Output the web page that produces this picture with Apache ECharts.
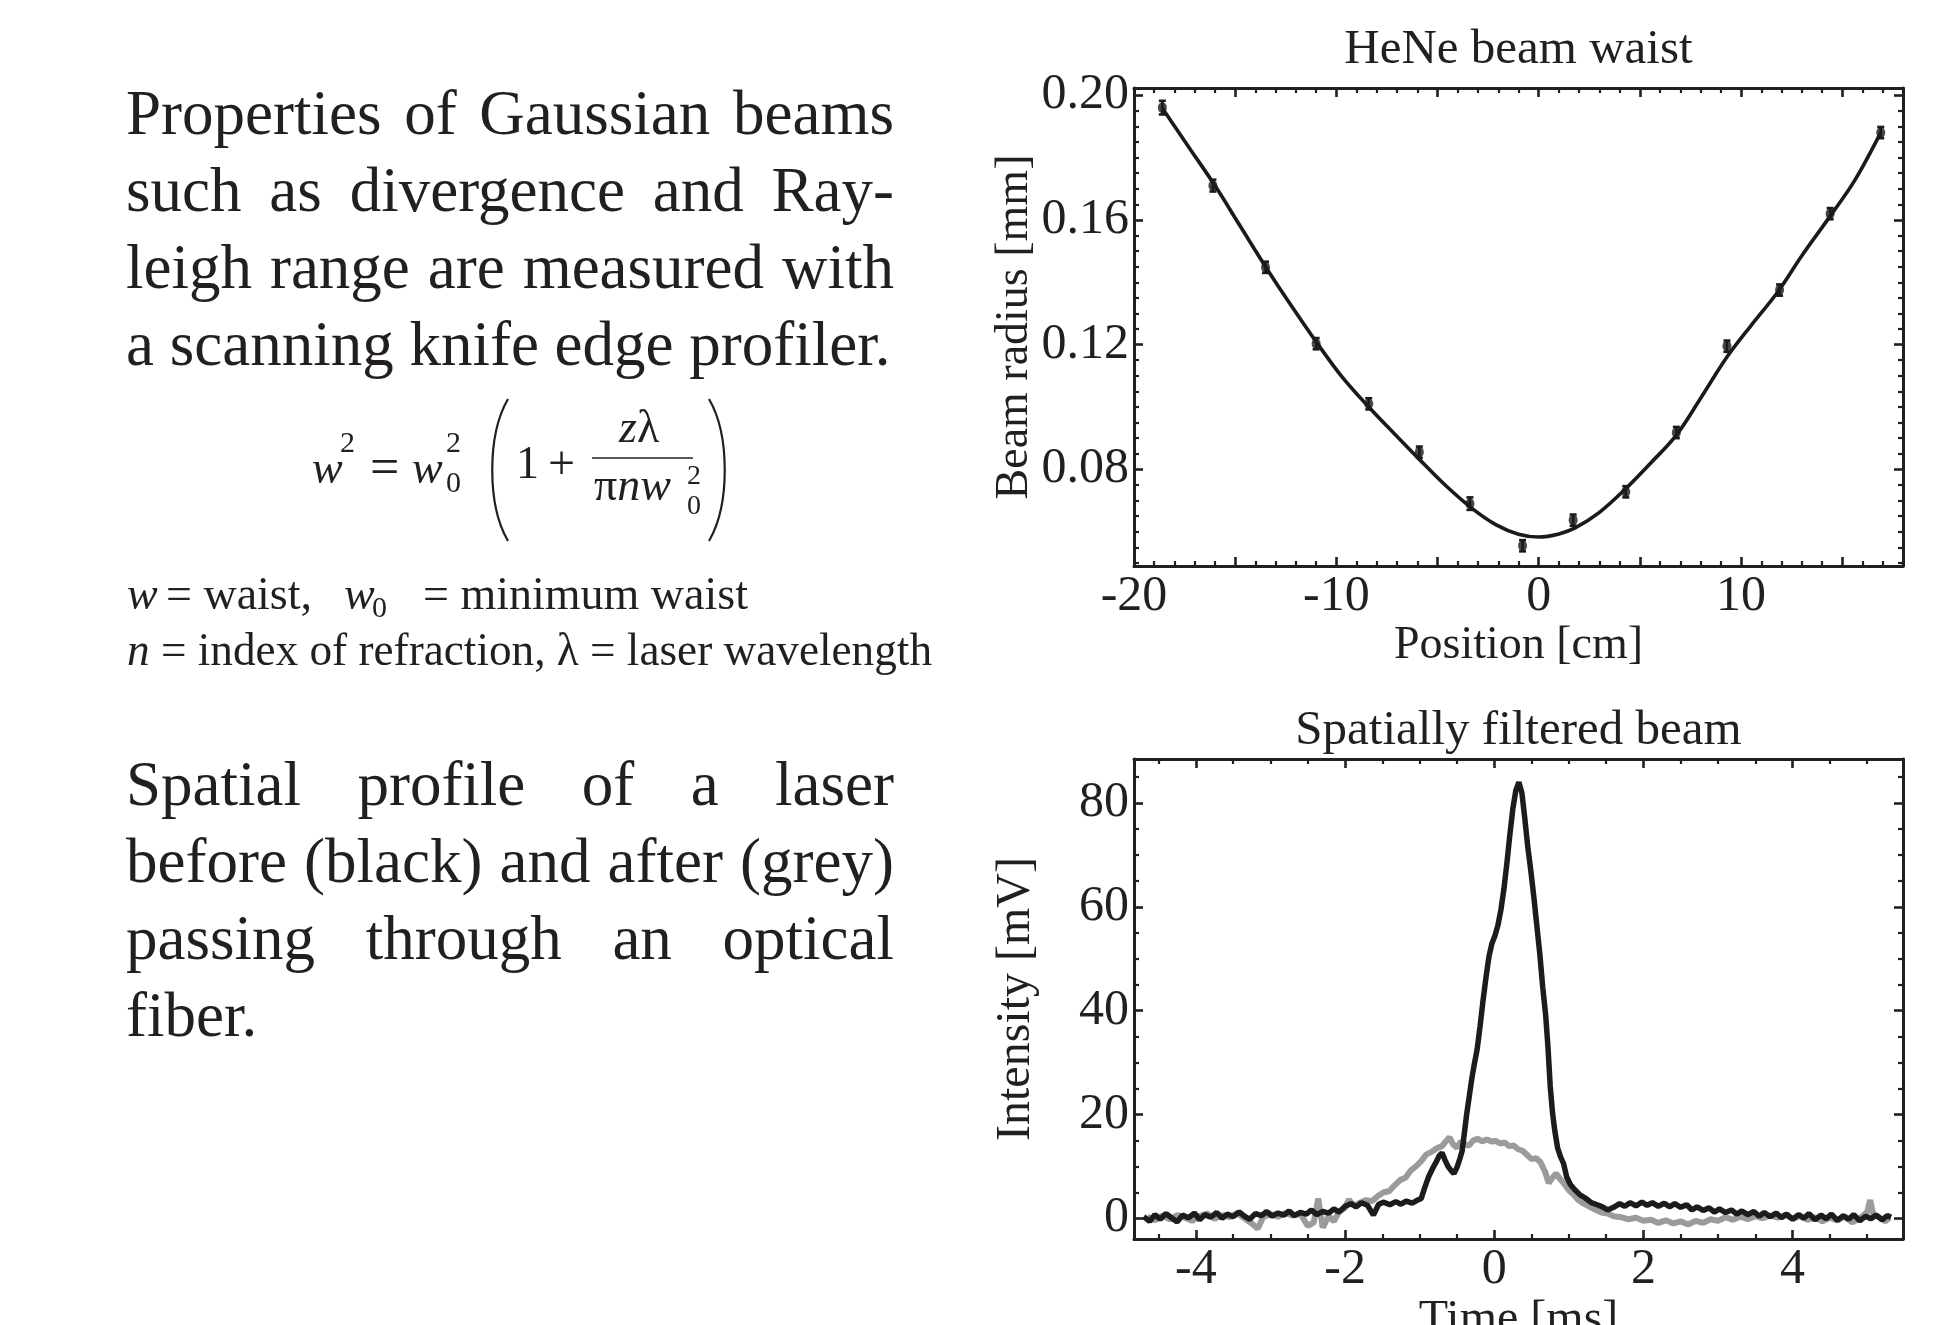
<!DOCTYPE html>
<html>
<head>
<meta charset="utf-8">
<title>Gaussian beam measurements</title>
<script src="https://cdn.jsdelivr.net/npm/echarts@6/dist/echarts.min.js"></script>
<style>
  html, body { margin: 0; padding: 0; background: #ffffff; width: 1941px; height: 1325px; overflow: hidden; }
  #chart { position: absolute; left: 0; top: 0; width: 1941px; height: 1325px; }
  .para { position: absolute; left: 126px; width: 768px; font-family: "Liberation Serif", "Times New Roman", serif;
          font-size: 63px; line-height: 77px; color: #231f20; }
  .para div { text-align: justify; text-align-last: justify; }
  .para div.last { text-align: left; text-align-last: left; white-space: nowrap; }
  svg.eq { position: absolute; left: 0; top: 0; pointer-events: none; }
  svg.eq text { font-family: "Liberation Serif", "Times New Roman", serif; fill: #231f20; }
</style>
</head>
<body>
<div id="chart"></div>

<div class="para" style="top:75px">
  <div>Properties of Gaussian beams</div>
  <div>such as divergence and Ray-</div>
  <div>leigh range are measured with</div>
  <div class="last">a scanning knife edge profiler.</div>
</div>

<div class="para" style="top:746px">
  <div>Spatial profile of a laser</div>
  <div>before (black) and after (grey)</div>
  <div>passing through an optical</div>
  <div class="last">fiber.</div>
</div>

<svg class="eq" width="1000" height="700" xmlns="http://www.w3.org/2000/svg">
  <!-- w^2 = w0^2 ( 1 + z lambda / (pi n w0^2) ) -->
  <text x="312" y="483" font-size="46" font-style="italic">w</text>
  <text x="340" y="452" font-size="30">2</text>
  <text x="370" y="484" font-size="52">=</text>
  <text x="412" y="483" font-size="46" font-style="italic">w</text>
  <text x="446" y="492" font-size="30">0</text>
  <text x="446" y="452" font-size="30">2</text>
  <path d="M 508 399 C 487 435, 487 505, 508 541" fill="none" stroke="#231f20" stroke-width="2.2"/>
  <text x="516" y="478" font-size="46">1</text>
  <text x="548" y="479" font-size="48">+</text>
  <text x="619" y="442" font-size="46"><tspan font-style="italic">z</tspan>λ</text>
  <line x1="592" y1="458" x2="693" y2="458" stroke="#231f20" stroke-width="1.6"/>
  <text x="594" y="500" font-size="46">π<tspan font-style="italic">nw</tspan></text>
  <text x="687" y="484" font-size="28">2</text>
  <text x="687" y="514" font-size="28">0</text>
  <path d="M 709 399 C 730 435, 730 505, 709 541" fill="none" stroke="#231f20" stroke-width="2.2"/>

  <!-- symbol definitions -->
  <text x="127" y="609" font-size="46" font-style="italic">w</text>
  <text x="166" y="609" font-size="46">= waist,</text>
  <text x="344" y="609" font-size="46" font-style="italic">w</text>
  <text x="372" y="617" font-size="30">0</text>
  <text x="423" y="609" font-size="46">= minimum waist</text>
  <text x="127" y="665" font-size="46" textLength="805" lengthAdjust="spacingAndGlyphs"><tspan font-style="italic">n</tspan> = index of refraction, λ = laser wavelength</text>
</svg>

<script>
// ---- HeNe beam waist: knife-edge measurements along the beam ----
const positionCm = [-18.6, -16.1, -13.5, -11.0, -8.4, -5.9, -3.4, -0.8, 1.7, 4.3, 6.8, 9.3, 11.9, 14.4, 16.9];
const radiusMm   = [0.1960, 0.1710, 0.1448, 0.1203, 0.1010, 0.0855, 0.0690, 0.0555, 0.0637, 0.0728, 0.0918, 0.1195, 0.1375, 0.1620, 0.1880];
const radiusErr  = [0.0022, 0.0019, 0.0018, 0.0018, 0.0018, 0.0018, 0.0020, 0.0018, 0.0018, 0.0018, 0.0018, 0.0018, 0.0018, 0.0018, 0.0018];

// fitted beam-radius curve
const fitCm = [-18.6, -17.3, -16.0, -14.8, -13.5, -12.2, -10.9, -9.7, -8.4, -7.1, -5.9, -4.6, -3.3, -2.1, -1.0,
               0.0, 1.0, 1.8, 3.0, 4.3, 5.5, 6.8, 8.0, 9.3, 10.5, 11.8, 13.0, 14.4, 15.6, 16.9];
const fitMm = [0.1958, 0.1834, 0.1710, 0.1585, 0.1450, 0.1322, 0.1200, 0.1095, 0.1000, 0.0912, 0.0832, 0.0748, 0.0675, 0.0622, 0.0592,
               0.0583, 0.0593, 0.0612, 0.0662, 0.0738, 0.0818, 0.0910, 0.1028, 0.1160, 0.1262, 0.1368, 0.1485, 0.1612, 0.1725, 0.1880];

const waistXLabels = [-20, -10, 0, 10];
const waistYLabels = [0.08, 0.12, 0.16, 0.20];

// ---- Spatially filtered beam: detector trace vs. time ----
const blackMs = [-4.70, -4.62, -4.55, -4.48, -4.40, -4.32, -4.25, -4.18, -4.10, -4.02, -3.95, -3.88, -3.80, -3.72, -3.65, -3.58,
  -3.50, -3.42, -3.35, -3.28, -3.20, -3.12, -3.05, -2.98, -2.90, -2.82, -2.75, -2.68, -2.60, -2.52, -2.45, -2.38, -2.30, -2.22,
  -2.15, -2.08, -2.00, -1.92, -1.85, -1.78, -1.70, -1.62, -1.55, -1.48, -1.40, -1.32, -1.25, -1.18, -1.10, -1.04, -0.98, -0.93,
  -0.88, -0.83, -0.78, -0.74, -0.70, -0.66, -0.62, -0.58, -0.54, -0.50, -0.46, -0.43, -0.40, -0.37, -0.34, -0.30, -0.27, -0.23,
  -0.19, -0.15, -0.11, -0.07, -0.03, 0.01, 0.05, 0.09, 0.13, 0.17, 0.21, 0.25, 0.29, 0.33, 0.37, 0.41, 0.45, 0.49, 0.53, 0.57,
  0.61, 0.65, 0.69, 0.72, 0.75, 0.78, 0.81, 0.85, 0.89, 0.93, 0.97, 1.02, 1.08, 1.15, 1.22, 1.30, 1.38, 1.45, 1.52, 1.60, 1.68,
  1.75, 1.82, 1.90, 1.98, 2.05, 2.12, 2.20, 2.28, 2.35, 2.42, 2.50, 2.58, 2.65, 2.72, 2.80, 2.88, 2.95, 3.02, 3.10, 3.18, 3.25,
  3.32, 3.40, 3.48, 3.55, 3.62, 3.70, 3.78, 3.85, 3.92, 4.00, 4.08, 4.15, 4.22, 4.30, 4.38, 4.45, 4.52, 4.60, 4.68, 4.75, 4.82,
  4.90, 4.98, 5.05, 5.12, 5.20, 5.27, 5.32];
const blackMv = [0.3, -0.6, 0.7, -0.2, 0.9, 0.0, -0.7, 0.6, 0.1, 1.0, -0.3, 0.7, 0.2, 1.1, 0.0, 0.8,
  0.3, 1.2, 0.4, -0.2, 0.9, 0.5, 1.3, 0.4, 1.0, 0.6, 1.4, 0.5, 1.1, 0.8, 1.6, 0.7, 1.3, 1.0,
  1.8, 1.2, 2.3, 2.8, 2.2, 3.0, 2.5, 0.6, 2.7, 3.1, 2.6, 3.2, 2.7, 3.3, 2.9, 3.4, 3.8, 6.0,
  8.0, 9.5, 10.8, 12.0, 12.6, 11.2, 10.0, 9.2, 8.6, 9.8, 11.5, 13.0, 16.5, 20.0, 23.0, 27.0, 29.5, 32.5,
  37.0, 42.0, 46.5, 50.5, 53.0, 54.5, 56.5, 59.5, 63.5, 68.5, 74.0, 79.0, 82.5, 84.0, 82.0, 77.0, 71.5, 67.0, 62.0, 56.5,
  51.0, 44.5, 39.0, 33.0, 25.5, 20.5, 17.0, 13.5, 11.8, 10.5, 8.0, 6.5, 5.5, 4.5, 3.9, 3.0, 2.6, 2.2, 1.6, 2.1, 2.8,
  2.3, 3.0, 2.4, 3.1, 2.5, 3.0, 2.3, 2.9, 2.2, 2.8, 2.1, 2.6, 1.6, 2.2, 1.5, 2.0, 1.2, 1.8, 1.1, 1.6, 0.8,
  1.4, 0.7, 1.3, 0.4, 1.1, 0.3, 1.0, 0.1, 0.8, -0.2, 0.7, 0.0, 0.9, -0.3, 0.6, -0.1, 0.8, -0.4, 0.5, -0.2, 0.7,
  -0.5, 0.4, -0.1, 0.6, -0.3, 0.5, 0.2];

const greyMs = [-4.65, -4.55, -4.45, -4.35, -4.25, -4.15, -4.05, -3.95, -3.85, -3.75, -3.65, -3.55, -3.45, -3.35, -3.25, -3.17,
  -3.10, -3.00, -2.90, -2.80, -2.70, -2.60, -2.50, -2.42, -2.36, -2.30, -2.22, -2.15, -2.08, -2.00, -1.95, -1.88, -1.80, -1.72,
  -1.64, -1.56, -1.48, -1.41, -1.34, -1.26, -1.19, -1.12, -1.05, -0.98, -0.91, -0.84, -0.77, -0.70, -0.65, -0.60, -0.55, -0.50,
  -0.45, -0.40, -0.34, -0.28, -0.22, -0.16, -0.10, -0.04, 0.02, 0.08, 0.14, 0.20, 0.26, 0.32, 0.38, 0.44, 0.50, 0.56, 0.62,
  0.68, 0.73, 0.78, 0.83, 0.88, 0.94, 1.00, 1.06, 1.12, 1.20, 1.28, 1.36, 1.44, 1.52, 1.60, 1.70, 1.80, 1.90, 2.00, 2.10, 2.20,
  2.30, 2.40, 2.50, 2.60, 2.70, 2.80, 2.90, 3.00, 3.10, 3.20, 3.30, 3.40, 3.50, 3.60, 3.70, 3.80, 3.90, 4.00, 4.10, 4.20, 4.30,
  4.40, 4.50, 4.60, 4.70, 4.80, 4.90, 5.00, 5.04, 5.08, 5.16, 5.24, 5.30];
const greyMv = [0.3, -0.4, 0.5, -0.2, 0.6, 0.1, -0.5, 0.4, 0.9, -0.1, 0.6, 0.2, 1.0, 0.0, -1.0, -2.0,
  0.2, 0.8, 0.3, 1.0, 0.5, 0.9, -1.5, -0.8, 3.8, -1.8, 0.4, -0.6, 1.3, 2.0, 3.6, 2.4, 3.0, 3.5,
  3.3, 4.3, 5.0, 5.2, 6.3, 7.4, 7.8, 9.2, 10.0, 11.0, 12.3, 12.8, 13.5, 13.9, 14.8, 15.6, 14.2, 13.6,
  14.8, 14.3, 14.0, 15.0, 15.3, 14.8, 15.2, 14.8, 14.9, 14.4, 14.6, 13.9, 14.0, 13.3, 13.0, 12.2, 11.4, 11.6, 10.8,
  9.0, 6.8, 7.8, 8.6, 7.6, 6.6, 5.4, 4.6, 3.6, 2.8, 2.2, 1.6, 1.1, 0.9, 0.4, 0.2, -0.2, 0.1, -0.5, -0.3, -0.9,
  -0.4, -1.0, -0.6, -1.2, -0.5, -0.9, -0.2, -0.5, 0.2, -0.3, 0.3, -0.2, 0.4, 0.0, 0.5, 0.1, 0.6, -0.1, 0.4, -0.3, 0.2,
  -0.6, 0.1, -0.4, 0.3, -0.8, 0.0, 1.2, 3.5, 0.8, 0.2, -0.6, 0.1];

const timeLabels = [-4, -2, 0, 2, 4];
const intensityLabels = [0, 20, 40, 60, 80];

// ---- styling helpers ----
const FONT = '"Liberation Serif", "Times New Roman", serif';
const INK = '#231f20';

const zip = (...cols) => cols[0].map((_, i) => cols.map(c => c[i]));

// tick positions every `step` inside [min, max], leaving out the major ones
function stepTicks(min, max, step, skip) {
  const out = [];
  const start = Math.ceil(min / step - 1e-9);
  for (let k = start; k * step <= max + 1e-9; k++) {
    const v = +(k * step).toFixed(6);
    if (!skip.some(s => Math.abs(s - v) < 1e-9)) out.push(v);
  }
  return out;
}

// four axes per dimension: labelled frame side, its minor ticks, opposite frame side, its minor ticks
function frameAxes(dim, grid, o) {
  const [near, far] = dim === 'x' ? ['bottom', 'top'] : ['left', 'right'];
  const base = { type: 'value', gridIndex: grid, min: o.min, max: o.max, scale: true,
                 splitLine: { show: false }, axisPointer: { show: false } };
  const line = { show: true, onZero: false, lineStyle: { color: INK, width: 3 } };
  const noLine = { show: false, onZero: false };
  const major = { show: true, inside: true, length: o.majorLen, lineStyle: { color: INK, width: 2.6 }, customValues: o.major };
  const minor = { show: true, inside: true, length: o.minorLen, lineStyle: { color: INK, width: 2.2 }, customValues: o.minor };
  return [
    Object.assign({}, base, {
      position: near, axisLine: line, axisTick: major,
      axisLabel: { show: true, customValues: o.labels, formatter: o.fmt, fontFamily: FONT, fontSize: o.labelSize,
                   color: INK, margin: o.margin, showMinLabel: true, showMaxLabel: true, hideOverlap: false },
      name: o.name, nameLocation: 'middle', nameGap: o.nameGap,
      nameTextStyle: { fontFamily: FONT, fontSize: o.nameSize, color: INK }
    }),
    Object.assign({}, base, { position: near, axisLine: noLine, axisTick: minor, axisLabel: { show: false } }),
    Object.assign({}, base, { position: far, axisLine: line, axisTick: major, axisLabel: { show: false } }),
    Object.assign({}, base, { position: far, axisLine: noLine, axisTick: minor, axisLabel: { show: false } })
  ];
}

// axis ranges
const waistX = { min: -20, max: 18 };
const waistY = { min: 0.049, max: 0.2023 };
const timeX = { min: -4.83, max: 5.48 };
const intY = { min: -4.0, max: 88.5 };

const waistXMajor = [-20, -15, -10, -5, 0, 5, 10, 15];
const waistYMajor = [0.08, 0.12, 0.16, 0.20];
const timeMajor = [-4, -2, 0, 2, 4];
const intMajor = [0, 20, 40, 60, 80];

const xAxes = [].concat(
  frameAxes('x', 0, { ...waistX, major: waistXMajor, minor: stepTicks(waistX.min, waistX.max, 1, waistXMajor),
    majorLen: 9, minorLen: 5, labels: waistXLabels, fmt: v => String(Math.round(v)), labelSize: 50, margin: 6,
    name: 'Position [cm]', nameGap: 56, nameSize: 46 }),
  frameAxes('x', 1, { ...timeX, major: timeMajor, minor: stepTicks(timeX.min, timeX.max, 0.5, timeMajor),
    majorLen: 9, minorLen: 5, labels: timeLabels, fmt: v => String(Math.round(v)), labelSize: 50, margin: 6,
    name: 'Time [ms]', nameGap: 50, nameSize: 48 })
);
const yAxes = [].concat(
  frameAxes('y', 0, { ...waistY, major: waistYMajor, minor: stepTicks(waistY.min, waistY.max, 0.005, waistYMajor),
    majorLen: 9, minorLen: 5, labels: waistYLabels, fmt: v => v.toFixed(2), labelSize: 50, margin: 5,
    name: 'Beam radius [mm]', nameGap: 94, nameSize: 46 }),
  frameAxes('y', 1, { ...intY, major: intMajor, minor: stepTicks(intY.min, intY.max, 5, intMajor),
    majorLen: 9, minorLen: 5, labels: intensityLabels, fmt: v => String(Math.round(v)), labelSize: 50, margin: 5,
    name: 'Intensity [mV]', nameGap: 94, nameSize: 48 })
);

function errorBar(params, api) {
  const x = api.value(0), y = api.value(1), e = api.value(2);
  const hi = api.coord([x, y + e]);
  const lo = api.coord([x, y - e]);
  const cap = 3.5;
  const st = { stroke: '#1a1a1a', lineWidth: 2.6 };
  return {
    type: 'group',
    children: [
      { type: 'line', shape: { x1: hi[0], y1: hi[1], x2: lo[0], y2: lo[1] }, style: st },
      { type: 'line', shape: { x1: hi[0] - cap, y1: hi[1], x2: hi[0] + cap, y2: hi[1] }, style: st },
      { type: 'line', shape: { x1: lo[0] - cap, y1: lo[1], x2: lo[0] + cap, y2: lo[1] }, style: st }
    ]
  };
}

const chart = echarts.init(document.getElementById('chart'), null, { renderer: 'canvas' });
chart.setOption({
  animation: false,
  backgroundColor: 'transparent',
  title: [
    { text: 'HeNe beam waist', left: 1518.5, top: 26, textAlign: 'center', padding: 0,
      textStyle: { fontFamily: FONT, fontSize: 49, fontWeight: 'normal', color: INK } },
    { text: 'Spatially filtered beam', left: 1518.5, top: 707, textAlign: 'center', padding: 0,
      textStyle: { fontFamily: FONT, fontSize: 49, fontWeight: 'normal', color: INK } }
  ],
  grid: [
    { left: 1134, top: 88, width: 769, height: 478, containLabel: false, outerBoundsMode: 'none' },
    { left: 1134, top: 759, width: 769, height: 480, containLabel: false, outerBoundsMode: 'none' }
  ],
  xAxis: xAxes,
  yAxis: yAxes,
  series: [
    { name: 'fit', type: 'line', xAxisIndex: 0, yAxisIndex: 0, data: zip(fitCm, fitMm), smooth: 0.35,
      showSymbol: false, symbol: 'none', lineStyle: { color: '#1a1a1a', width: 3.6 }, z: 3 },
    { name: 'error', type: 'custom', xAxisIndex: 0, yAxisIndex: 0, data: zip(positionCm, radiusMm, radiusErr),
      renderItem: errorBar, encode: { x: 0, y: 1 }, z: 4 },
    { name: 'measured', type: 'scatter', xAxisIndex: 0, yAxisIndex: 0, data: zip(positionCm, radiusMm),
      symbol: 'circle', symbolSize: [9, 11], itemStyle: { color: '#1a1a1a' }, z: 5 },
    { name: 'after fiber', type: 'line', xAxisIndex: 4, yAxisIndex: 4, data: zip(greyMs, greyMv),
      showSymbol: false, symbol: 'none', lineStyle: { color: '#9b9b9b', width: 6 }, z: 3 },
    { name: 'before fiber', type: 'line', xAxisIndex: 4, yAxisIndex: 4, data: zip(blackMs, blackMv),
      showSymbol: false, symbol: 'none', lineStyle: { color: '#1c1c1c', width: 5.5 }, z: 4 }
  ]
});
</script>
</body>
</html>
